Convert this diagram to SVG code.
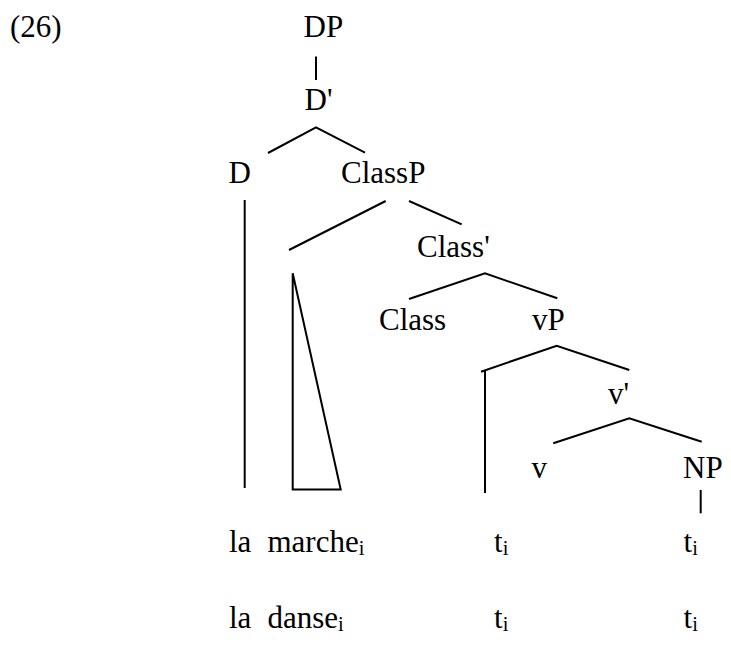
<svg xmlns="http://www.w3.org/2000/svg" width="731" height="645" viewBox="0 0 731 645">
<style>
text{font-family:"Liberation Serif","Times New Roman",serif;font-size:31px;fill:#000}
.sub{font-size:20.5px}
.ln{stroke:#000;stroke-width:2;fill:none;stroke-linecap:butt}
</style>
<rect width="731" height="645" fill="#fff"/>
<text id="exnum" x="10" y="37">(26)</text>
<g id="DP"><text x="303.5" y="37">DP</text></g>
<g id="Dbar"><text x="304.5" y="110">D'</text></g>
<g id="D"><text x="228.5" y="182.5">D</text></g>
<g id="ClassP"><text x="341" y="183">ClassP</text></g>
<g id="Classbar"><text x="417" y="257.3">Class'</text></g>
<g id="Class"><text x="379" y="330">Class</text></g>
<g id="vP"><text x="532" y="330">vP</text></g>
<g id="vbar"><text x="608" y="404">v'</text></g>
<g id="v"><text x="531.5" y="478.3">v</text></g>
<g id="NP"><text x="683" y="478">NP</text></g>
<g id="row1">
<text x="229" y="551.5">la</text>
<text x="267.5" y="551.5">marche<tspan class="sub" dy="3">i</tspan></text>
<text x="494" y="551.5">t<tspan class="sub" dy="3">i</tspan></text>
<text x="683.5" y="551.5">t<tspan class="sub" dy="3">i</tspan></text>
</g>
<g id="row2">
<text x="229" y="628">la</text>
<text x="267.5" y="628">danse<tspan class="sub" dy="3">i</tspan></text>
<text x="494" y="628">t<tspan class="sub" dy="3">i</tspan></text>
<text x="683.5" y="628">t<tspan class="sub" dy="3">i</tspan></text>
</g>
<g id="connectors" class="ln">
<line class="ln" x1="316" y1="56.5" x2="316" y2="80"/>
<polyline class="ln" points="268,153 316,127.3 365,152.7"/>
<line class="ln" x1="244.7" y1="200" x2="244.7" y2="488"/>
<line class="ln" x1="385.7" y1="201" x2="289" y2="250"/>
<line class="ln" x1="409" y1="201" x2="461.7" y2="224.3"/>
<polygon class="ln" points="292.7,273.3 292.7,489.5 340.7,489.5"/>
<polyline class="ln" points="409,299 485,273.3 557.3,298.3"/>
<polyline class="ln" points="481,371.7 556.7,345.7 629.3,370"/>
<line class="ln" x1="485" y1="371" x2="485" y2="493"/>
<polyline class="ln" points="553.3,443.3 629.3,418.3 701.7,441.7"/>
<line class="ln" x1="700.7" y1="490" x2="700.7" y2="513.3"/>
</g>
</svg>
